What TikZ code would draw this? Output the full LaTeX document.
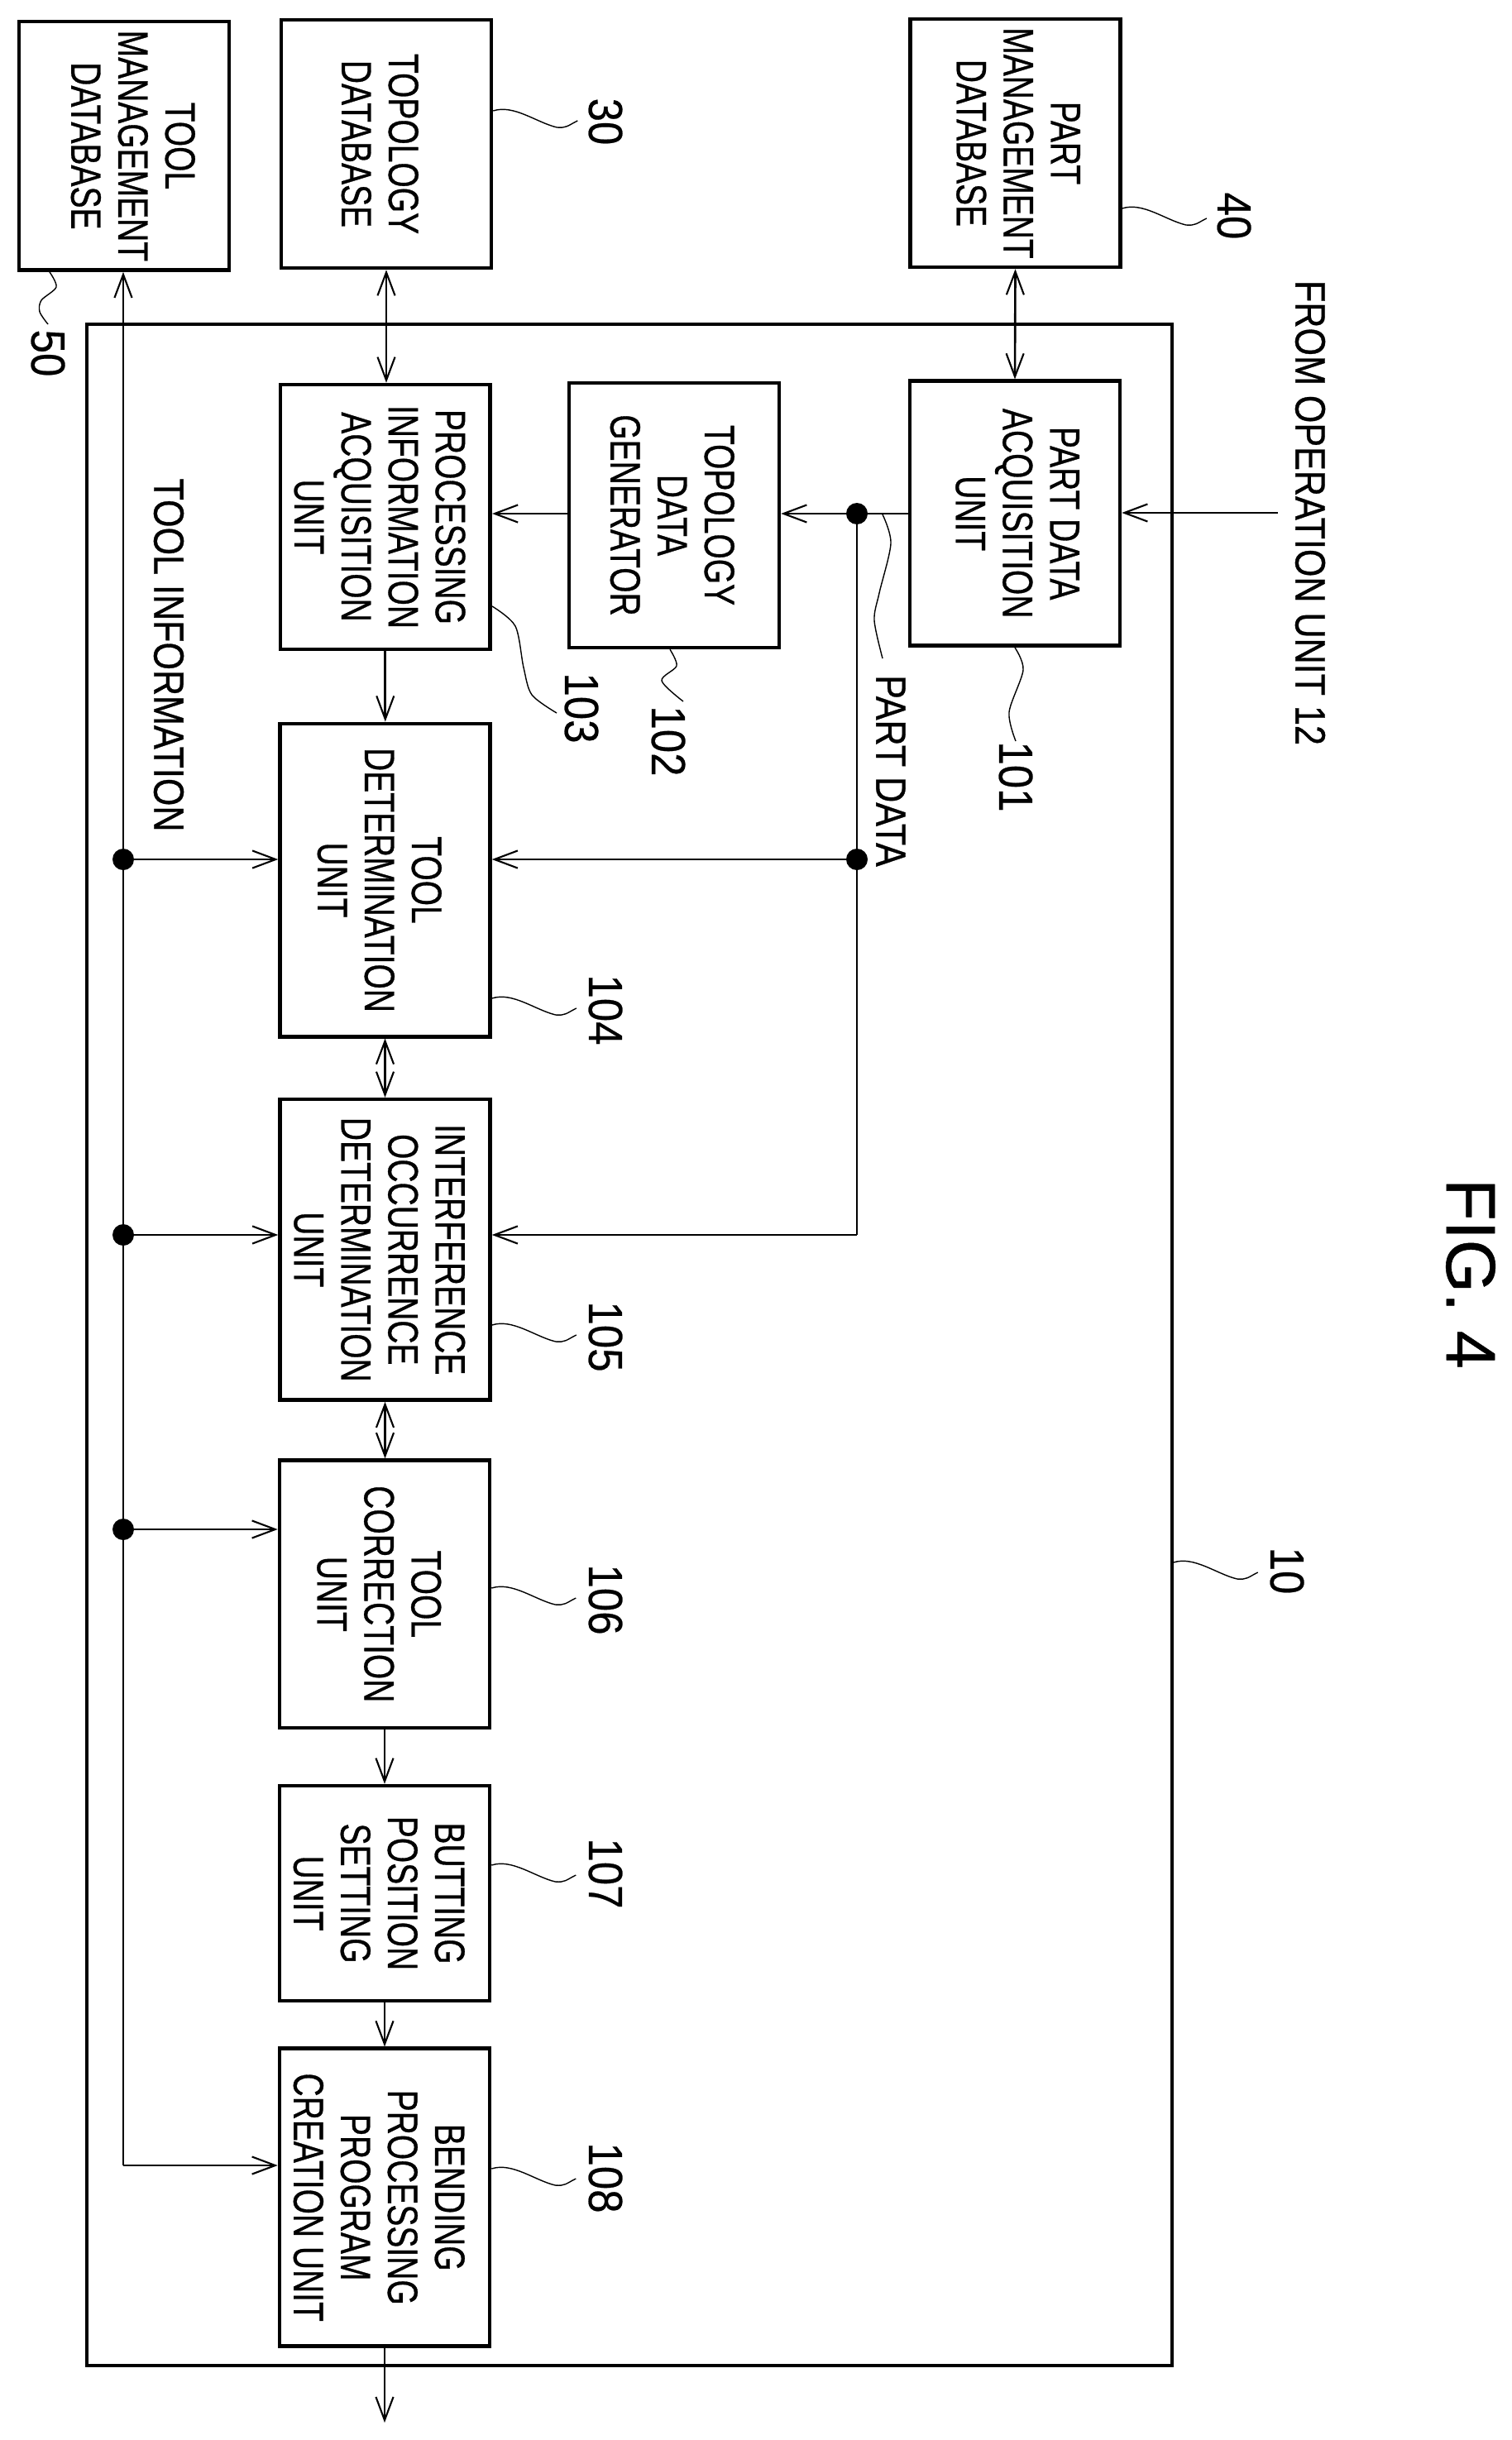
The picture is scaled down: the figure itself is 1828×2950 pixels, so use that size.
\documentclass[tikz,border=0pt]{standalone}
\usepackage{fontspec}
\setmainfont[FakeStretch=0.76,FakeBold=0.6]{Liberation Sans}
\newfontfamily\labfont[FakeStretch=0.84,FakeBold=0.6]{Liberation Sans}
\newfontfamily\numfont[FakeStretch=0.88,FakeBold=0.4]{Liberation Sans}
\newfontfamily\figfont[FakeStretch=0.98,FakeBold=0.6]{Liberation Sans}
\usepackage{graphicx}
\usetikzlibrary{arrows.meta}
\usetikzlibrary{positioning}
\newcommand{\vtext}[2][-0.26cm]{\kern#1\rotatebox{-90}{\begin{tabular}{@{}c@{}}#2\end{tabular}}\kern-#1}
\tikzstyle{block} = [rectangle, draw=black, line width=2.6pt, minimum width=5.08cm, inner sep=0pt, font=\fontsize{29.2}{32.4}\selectfont]
\tikzstyle{frame} = [rectangle, draw=black, line width=2.1pt, inner sep=0pt]
\tikzstyle{wire} = [line width=1.5pt]
\tikzstyle{arrow} = [->, wire, >={Straight Barb[length=16pt,width=12pt,line width=1.2pt]}]
\tikzstyle{dblarrow} = [arrow, <->]
\tikzstyle{dot} = [circle, fill=black, inner sep=0pt, minimum size=0.52cm]
\tikzstyle{leader} = [line width=0.8pt]
\tikzstyle{num} = [rotate=-90, inner sep=0pt, font=\numfont\fontsize{33}{33}\selectfont]
\tikzstyle{lab} = [rotate=-90, inner sep=0pt, font=\labfont\fontsize{29.2}{32.4}\selectfont]

\begin{document}
\begin{tikzpicture}[x=0.02cm, y=-0.02cm]

  \useasboundingbox (0,0) rectangle (1828,2950);

  % outer unit
  \node[frame, minimum width=26.24cm, minimum height=49.36cm] (unit) at (761,1626) {};

  % databases
  \node[block, minimum height=6.01cm] (tooldb) at (150,176.4) {\vtext[0.09cm]{TOOL\\MANAGEMENT\\DATABASE}};
  \node[block, minimum height=6.00cm] (topodb) at (467,174) {\vtext[-0.28cm]{TOPOLOGY\\DATABASE}};
  \node[block, minimum height=6.00cm] (partdb) at (1227.5,173) {\vtext[-0.05cm]{PART\\MANAGEMENT\\DATABASE}};

  % units
  \node[block, minimum height=6.40cm] (partacq) at (1227,620.7) {\vtext[-0.06cm]{PART DATA\\ACQUISITION\\UNIT}};
  \node[block, minimum height=6.40cm] (topogen) at (815,623) {\vtext[-0.17cm]{TOPOLOGY\\DATA\\GENERATOR}};
  \node[block, minimum height=6.40cm] (procinfo) at (465.8,625) {\vtext{PROCESSING\\INFORMATION\\ACQUISITION\\UNIT}};
  \node[block, minimum height=7.57cm] (tooldet) at (465.5,1064) {\vtext{TOOL\\DETERMINATION\\UNIT}};
  \node[block, minimum height=7.27cm] (interf) at (465.5,1510.8) {\vtext{INTERFERENCE\\OCCURRENCE\\DETERMINATION\\UNIT}};
  \node[block, minimum height=6.47cm] (toolcor) at (465,1927.3) {\vtext{TOOL\\CORRECTION\\UNIT}};
  \node[block, minimum height=5.20cm] (butting) at (465,2289) {\vtext{BUTTING\\POSITION\\SETTING\\UNIT}};
  \node[block, minimum height=7.20cm] (bending) at (465,2656.7) {\vtext{BENDING\\PROCESSING\\PROGRAM\\CREATION UNIT}};

  % free texts
  \node[lab] (opunit) at (1584,620) {FROM OPERATION UNIT 12};
  \node[lab] (partdata) at (1077,932) {PART DATA};
  \node[lab] (toolinfo) at (204,792) {TOOL INFORMATION};
  \node[rotate=-90, inner sep=0pt, font=\figfont\fontsize{48}{48}\selectfont] (figno) at (1778,1540) {FIG. 4};

  % junctions
  \node[dot] (jpart) at (1036,621) {};
  \node[dot] (jpartb) at (1036,1039) {};
  \node[dot] (jtoola) at (149,1039) {};
  \node[dot] (jtoolb) at (149,1493) {};
  \node[dot] (jtoolc) at (149,1849) {};
  \coordinate (cpart) at (1036,1493);
  \coordinate (ctool) at (149,2618);
  \coordinate (cin) at (1545,620);
  \coordinate (cout) at (465,2929);

  % connectors
  \draw[dblarrow] (topodb.south) -- (procinfo.north -| topodb.south);
  \draw[dblarrow] (partdb.south) -- (partacq.north);
  \draw[arrow] (procinfo.south) -- (tooldet.north -| procinfo.south);
  \draw[dblarrow] (tooldet.south) -- (interf.north);
  \draw[dblarrow] (interf.south) -- (toolcor.north -| interf.south);
  \draw[arrow] (toolcor.south) -- (butting.north);
  \draw[arrow] (butting.south) -- (bending.north);
  \draw[arrow] (bending.south) -- (cout);

  \draw[arrow] (cin) -- (partacq.east |- cin);
  \draw[wire] (partacq.west |- jpart) -- (jpart);
  \draw[arrow] (jpart) -- (topogen.east |- jpart);
  \draw[arrow] (topogen.west |- jpart) -- (procinfo.east |- jpart);
  \draw[wire] (jpart) -- (jpartb) -- (cpart);
  \draw[arrow] (jpartb) -- (tooldet.east |- jpartb);
  \draw[arrow] (cpart) -- (interf.east |- cpart);

  \draw[arrow] (ctool) -- (tooldb.south -| ctool);
  \draw[arrow] (ctool) -- (bending.west |- ctool);
  \draw[arrow] (jtoola) -- (tooldet.west |- jtoola);
  \draw[arrow] (jtoolb) -- (interf.west |- jtoolb);
  \draw[arrow] (jtoolc) -- (toolcor.west |- jtoolc);

  % reference numbers with wavy leaders
  \foreach \n/\bx/\ys/\lx/\ly in {30/topodb/134/732/147, 40/partdb/252/1492/261, 10/unit/1889/1556/1899,
    104/tooldet/1207/732/1221, 105/interf/1602/732/1616, 106/toolcor/1920/732/1934,
    107/butting/2255/732/2265, 108/bending/2622/732/2633} {
    \node[num] (n\n) at (\lx,\ly) {\n};
    \draw[leader] (\bx.east |- 0,\ys) .. controls +(25,-8) and +(-25,-6) .. ++(77,20)
      .. controls +(12,1) and +(-12,6) .. ++(25,-8);
  }

  \node[num] (n50) at (58,427) {50};
  \node[num] (n101) at (1228,939) {101};
  \node[num] (n102) at (808,896) {102};
  \node[num] (n103) at (703,856) {103};

  \draw[leader] plot[smooth] coordinates {(tooldb.south -| 60,0) (68,347) (50,363) (48,377) (58,392)};
  \draw[leader] plot[smooth] coordinates {(partacq.south) (1237,810) (1220,861) (1228,896)};
  \draw[leader] plot[smooth] coordinates {(topogen.south -| 810,0) (818,805) (800,823) (826,848)};
  \draw[leader] plot[smooth] coordinates {(procinfo.east |- 0,733) (623,757) (633,807) (643,840) (673,862)};
  \draw[leader] plot[smooth] coordinates {(1067,622) (1077,657) (1063,717) (1057,750) (1067,796)};

\end{tikzpicture}
\end{document}
